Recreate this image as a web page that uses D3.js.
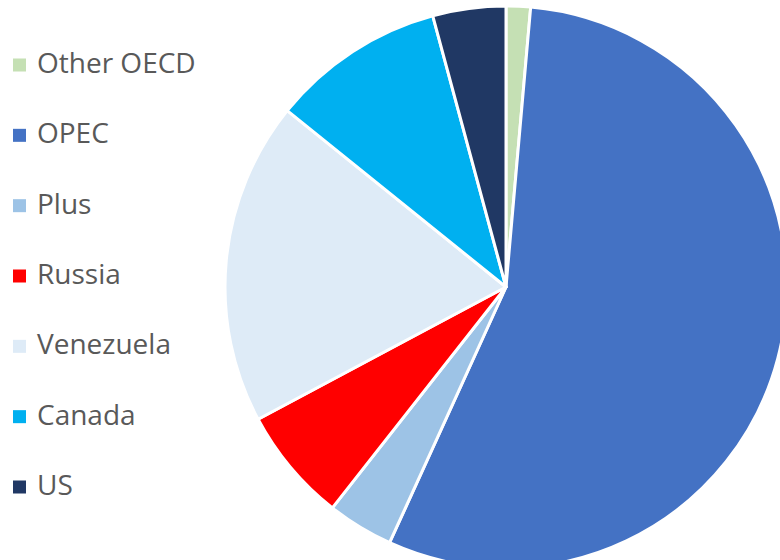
<!DOCTYPE html>
<html>
<head>
<meta charset="utf-8">
<script src="https://cdn.jsdelivr.net/npm/d3@7"></script>
<style>
  html, body { margin: 0; padding: 0; background: #fff; overflow: hidden; }
  svg { display: block; }
</style>
</head>
<body>
<svg id="chart" width="780" height="560"></svg>
<script>
const categories = ["Other OECD", "OPEC", "Plus", "Russia", "Venezuela", "Canada", "US"];
const values = [1.4, 55.4, 3.8, 6.6, 18.6, 10.0, 4.2];
const colors = ["#C5E0B4", "#4472C4", "#9DC3E6", "#FF0000", "#DEEBF7", "#00B0F0", "#203864"];

const svg = d3.select("#chart");
const cx = 506, cy = 287, r = 281;

const data = categories.map((c, i) => ({ name: c, value: values[i], color: colors[i] }));
const pie = d3.pie().value(d => d.value).sort(null);
const arc = d3.arc().innerRadius(0).outerRadius(r);

const g = svg.append("g").attr("transform", `translate(${cx},${cy})`);
g.selectAll("path")
  .data(pie(data))
  .join("path")
  .attr("d", arc)
  .attr("fill", d => d.data.color)
  .attr("stroke", "#fff")
  .attr("stroke-width", 3)
  .attr("stroke-linejoin", "round");

const legendY = d3.scalePoint().domain(categories).range([63, 485]);
const lg = svg.append("g");
const item = lg.selectAll("g").data(data).join("g")
  .attr("transform", d => `translate(0,${legendY(d.name)})`);
item.append("rect")
  .attr("x", 13).attr("y", -4.5).attr("width", 13).attr("height", 13)
  .attr("fill", d => d.color);
item.append("text")
  .attr("x", 37).attr("y", 0).attr("dy", "0.36em")
  .attr("font-family", "'Open Sans', 'Liberation Sans', sans-serif")
  .attr("font-size", 28)
  .attr("fill", "#595959")
  .text(d => d.name);
</script>
</body>
</html>
